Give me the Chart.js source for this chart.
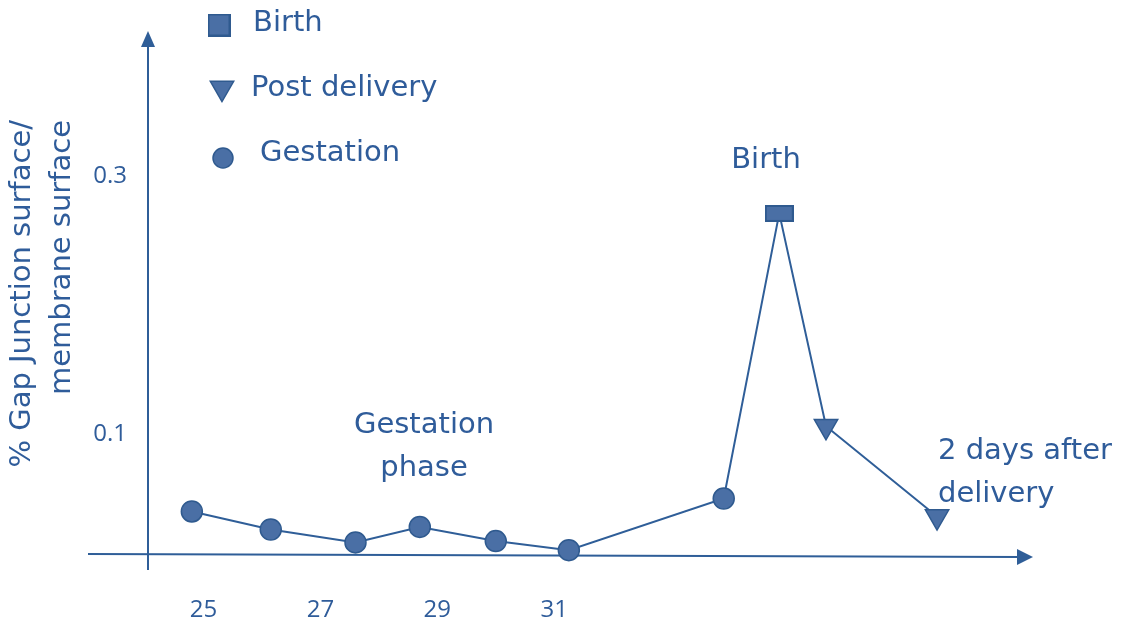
<!DOCTYPE html>
<html>
<head>
<meta charset="utf-8">
<script src="https://cdn.jsdelivr.net/npm/chart.js@4/dist/chart.umd.min.js"></script>
<style>
  html, body { margin: 0; padding: 0; background: #fff; }
  #wrap { width: 1128px; height: 625px; }
</style>
</head>
<body>
<div id="wrap"><canvas id="chart" width="1128" height="625"></canvas></div>
<script>
// values
const weeks = [24.8, 26.15, 27.6, 28.7, 30.0, 31.25, 33.9, 34.85, 35.65, 37.55];
const gapJunction = [0.040, 0.026, 0.016, 0.028, 0.017, 0.010, 0.050, 0.271, 0.106, 0.036];
const phases = ['Gestation', 'Gestation', 'Gestation', 'Gestation', 'Gestation', 'Gestation',
  'Gestation', 'Birth', 'Post delivery', 'Post delivery'];
const xTicks = [25, 27, 29, 31];
const yTicks = [0.1, 0.3];
const legendItems = ['Birth', 'Post delivery', 'Gestation'];

const FILL = '#4a6fa5';
const EDGE = '#2f5a8f';
const LINE = '#2f5e98';
const TEXT = '#2f5c9a';
const HAND = "'DejaVu Sans', sans-serif";

// rectangle marker used for the birth point
function makeRect(w, h) {
  const c = document.createElement('canvas');
  c.width = w;
  c.height = h;
  const g = c.getContext('2d');
  g.fillStyle = FILL;
  g.fillRect(0, 0, w, h);
  g.strokeStyle = EDGE;
  g.lineWidth = 2;
  g.strokeRect(1, 1, w - 2, h - 2);
  return c;
}

const birthRect = makeRect(29, 17);
const legendRect = makeRect(23, 23);

const styleFor = {
  'Gestation': { pointStyle: 'circle', radius: 10.5, rotation: 0 },
  'Birth': { pointStyle: birthRect, radius: 12, rotation: 0 },
  'Post delivery': { pointStyle: 'triangle', radius: 13.5, rotation: 180 }
};
const legendStyle = {
  'Birth': { pointStyle: legendRect, radius: 12, rotation: 0 },
  'Post delivery': { pointStyle: 'triangle', radius: 13.5, rotation: 180 },
  'Gestation': { pointStyle: 'circle', radius: 10, rotation: 0 }
};

const points = weeks.map((w, i) => ({ x: w, y: gapJunction[i] }));

function arrowHead(ctx, tipX, tipY, dx, dy, len, half) {
  const bx = tipX - dx * len, by = tipY - dy * len;
  ctx.beginPath();
  ctx.moveTo(tipX, tipY);
  ctx.lineTo(bx - dy * half, by + dx * half);
  ctx.lineTo(bx + dy * half, by - dx * half);
  ctx.closePath();
  ctx.fill();
}

const axesPlugin = {
  id: 'axesPlugin',
  beforeDatasetsDraw(chart) {
    const ctx = chart.ctx;
    const a = chart.chartArea;
    ctx.save();
    ctx.strokeStyle = LINE;
    ctx.fillStyle = LINE;
    ctx.lineWidth = 2;
    // vertical axis with arrow
    ctx.beginPath();
    ctx.moveTo(a.left, a.bottom);
    ctx.lineTo(a.left, 44);
    ctx.stroke();
    arrowHead(ctx, a.left, 31, 0, -1, 16, 7);
    // horizontal axis with arrow
    ctx.beginPath();
    ctx.moveTo(88, a.bottom - 16);
    ctx.lineTo(1020, a.bottom - 13);
    ctx.stroke();
    arrowHead(ctx, 1033, a.bottom - 13, 1, 0, 16, 8);
    ctx.restore();
  }
};

const notesPlugin = {
  id: 'notesPlugin',
  afterDraw(chart) {
    const ctx = chart.ctx;
    ctx.save();
    ctx.font = '29px ' + HAND;
    ctx.fillStyle = TEXT;
    ctx.textBaseline = 'middle';

    // legend
    const rows = [
      { x: 219, y: 25, tx: 253, ty: 23 },
      { x: 222, y: 88, tx: 251, ty: 88 },
      { x: 223, y: 158, tx: 260, ty: 153 }
    ];
    legendItems.forEach((name, i) => {
      const r = rows[i];
      ctx.fillStyle = FILL;
      ctx.strokeStyle = EDGE;
      ctx.lineWidth = 1.5;
      Chart.helpers.drawPoint(ctx, Object.assign({ borderWidth: 1.5 }, legendStyle[name]), r.x, r.y);
      ctx.fillStyle = TEXT;
      ctx.textAlign = 'left';
      ctx.fillText(name, r.tx, r.ty);
    });

    // annotations
    ctx.textAlign = 'center';
    ctx.fillText('Birth', 766, 160);
    ctx.fillText('Gestation', 424, 425);
    ctx.fillText('phase', 424, 468);
    ctx.textAlign = 'left';
    ctx.fillText('2 days after', 938, 451);
    ctx.fillText('delivery', 938, 494);
    ctx.restore();
  }
};

new Chart(document.getElementById('chart'), {
  type: 'scatter',
  data: {
    datasets: [{
      label: 'Gap junctions',
      data: points,
      showLine: true,
      borderColor: LINE,
      borderWidth: 2,
      backgroundColor: FILL,
      pointBackgroundColor: FILL,
      pointBorderColor: EDGE,
      pointBorderWidth: 1.5,
      pointStyle: phases.map(p => styleFor[p].pointStyle),
      pointRadius: phases.map(p => styleFor[p].radius),
      pointRotation: phases.map(p => styleFor[p].rotation),
      clip: false
    }]
  },
  options: {
    responsive: false,
    animation: false,
    layout: { padding: { top: 120, right: 98, left: 0, bottom: 0 } },
    plugins: {
      legend: { display: false },
      tooltip: { enabled: false }
    },
    scales: {
      x: {
        type: 'linear',
        min: 24.05,
        max: 39.14,
        afterBuildTicks: scale => { scale.ticks = xTicks.map(v => ({ value: v })); },
        afterFit: scale => { scale.height = 55; },
        grid: { display: false, drawTicks: false },
        border: { display: false },
        ticks: {
          padding: 26,
          color: TEXT,
          font: { family: "'Open Sans', sans-serif", size: 24 }
        }
      },
      y: {
        type: 'linear',
        min: -0.0054,
        max: 0.3434,
        afterBuildTicks: scale => { scale.ticks = yTicks.map(v => ({ value: v })); },
        afterFit: scale => { scale.width = 148; },
        grid: { display: false, drawTicks: false },
        border: { display: false },
        ticks: {
          padding: 21,
          color: TEXT,
          font: { family: "'Open Sans', sans-serif", size: 24 },
          callback: v => v.toFixed(1)
        },
        title: {
          display: true,
          text: ['% Gap Junction surface/', 'membrane surface'],
          align: 'end',
          color: TEXT,
          padding: { top: 2, bottom: 0 },
          font: { family: HAND, size: 29, lineHeight: 1.38 }
        }
      }
    }
  },
  plugins: [axesPlugin, notesPlugin]
});
</script>
</body>
</html>
